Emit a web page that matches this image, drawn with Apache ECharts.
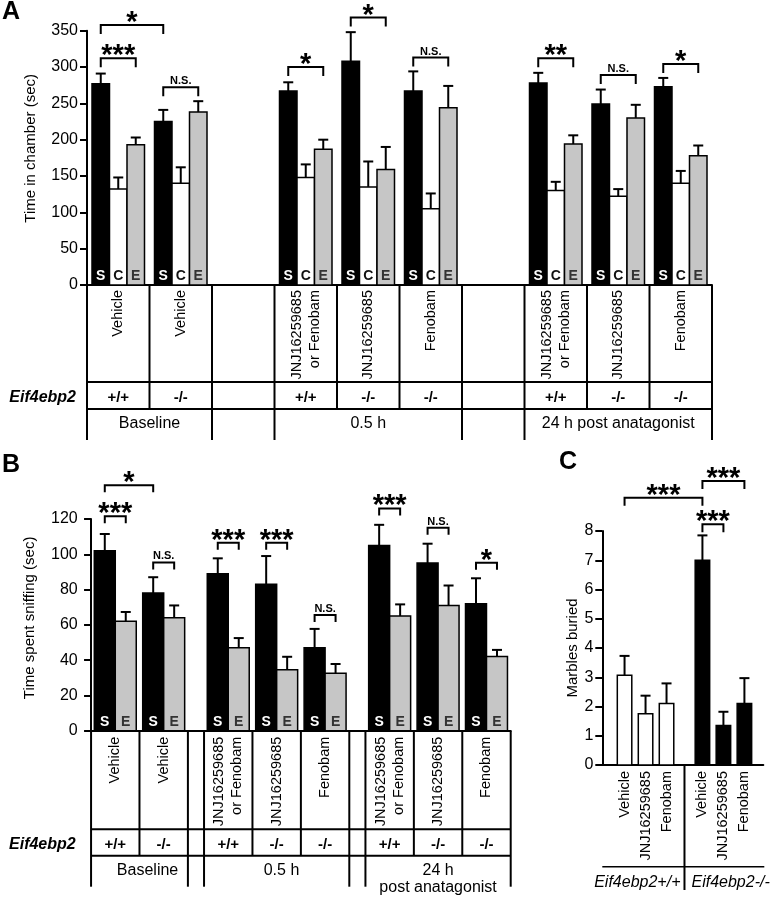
<!DOCTYPE html>
<html><head><meta charset="utf-8">
<script src="https://cdn.jsdelivr.net/npm/echarts@6/dist/echarts.min.js"></script>
<style>html,body{margin:0;padding:0;background:#fff}#c{width:774px;height:899px}</style>
</head><body><div id="c"></div>
<script>
// ================= DATA =================
// Panel A : time in chamber (S = stranger/social, C = center, E = empty)
const aTreatments = ['Vehicle','Vehicle','JNJ16259685\nor Fenobam','JNJ16259685','Fenobam','JNJ16259685\nor Fenobam','JNJ16259685','Fenobam'];
const aGenotypes  = ['+/+','-/-','+/+','-/-','-/-','+/+','-/-','-/-'];
const aTimepoints = ['Baseline','0.5 h','24 h post anatagonist'];
const aYTicks     = [0,50,100,150,200,250,300,350];
const aSocial     = [277,225,267,308,267,278,249,273];
const aSocialErr  = [14,16,12,40,27,14,20,12];
const aCenter     = [132,140,148,135,105,130,122,140];
const aCenterErr  = [16,22,18,35,21,12,10,17];
const aEmpty      = [193,238,187,159,244,194,230,178];
const aEmptyErr   = [10,15,13,31,30,12,18,14];
// significance brackets: [group, bar] -> [group, bar], level, label
const aSigFrom    = [[0,0],[0,0],[1,0],[2,0],[3,0],[4,0],[5,0],[6,0],[7,0]];
const aSigTo      = [[0,2],[1,0],[1,2],[2,2],[3,2],[4,2],[5,2],[6,2],[7,2]];
const aSigLevel   = [312,358,272,300,368,313,312,289,304];
const aSigLabel   = ['***','*','N.S.','*','*','N.S.','**','N.S.','*'];

// Panel B : time spent sniffing (S, E)
const bTreatments = aTreatments;
const bGenotypes  = aGenotypes;
const bTimepoints = ['Baseline','0.5 h','24 h\npost anatagonist'];
const bYTicks     = [0,20,40,60,80,100,120];
const bSocial     = [102,78,89,83,47,105,95,72];
const bSocialErr  = [9.5,9,8.7,16,10.7,11.7,11,14.4];
const bEmpty      = [62,64,47,34.5,32.5,65,71,42];
const bEmptyErr   = [5.3,7,5.5,7.4,5.3,6.6,11.3,3.8];
const bSigFrom    = [[0,0],[0,0],[1,0],[2,0],[3,0],[4,0],[5,0],[6,0],[7,0]];
const bSigTo      = [[0,1],[1,0],[1,1],[2,1],[3,1],[4,1],[5,1],[6,1],[7,1]];
const bSigLevel   = [121.6,139.2,95.4,106.5,106.5,65.6,126,115,95.2];
const bSigLabel   = ['***','*','N.S.','***','***','N.S.','***','N.S.','*'];

// Panel C : marbles buried
const cTreatments = ['Vehicle','JNJ16259685','Fenobam','Vehicle','JNJ16259685','Fenobam'];
const cGenotypes  = ['Eif4ebp2+/+','Eif4ebp2-/-'];
const cYTicks     = [0,1,2,3,4,5,6,7,8];
const cValues     = [3.07,1.75,2.1,7.0,1.35,2.1];
const cErr        = [0.66,0.62,0.69,0.85,0.47,0.87];
const cSigFrom    = [0,3,3];
const cSigTo      = [3,5,4];
const cSigLevel   = [9.14,9.71,8.23];
const cSigLabel   = ['***','***','***'];

// ================= LAYOUT =================
const FF = '"Liberation Sans", Arial, Helvetica, sans-serif';
const aSlots = [0,1,3,4,5,7,8,9];
const aBarW = 0.28;
const aX = (g,b) => aSlots[g] + 0.5 + (b-1)*aBarW;
const aBounds = [0,1,2,3,4,5,6,7,8,9,10];
const aFull = [0,2,3,6,7,10];
const aTimePos = [1,4.5,8.5];

const bStarts = [0,3,7,10,13,17,20,23];
const bBarW = 1.3;
const bX = (g,b) => bStarts[g] + 1.5 + (b===0 ? -bBarW/2 : bBarW/2);
const bBounds = [0,3,6,7,10,13,16,17,20,23,26];
const bFull = [0,6,7,16,17,26];
const bTimePos = [3.5,11.8,21.5];

const cBarW = 0.69;
const cX = i => 1.06 + i + (i>=3 ? 0.71 : 0);

const BLACK='#000', WHITE='#fff', GRAY='#c6c6c6';

function barSeries(gi, vals, errs, xf, wUnits, fill, letter, letterColor){
  return {
    type:'custom', xAxisIndex:gi, yAxisIndex:gi, clip:false, z:2, encode:{x:0,y:1},
    data: vals.map((v,i)=>[xf(i), v, errs[i]]),
    renderItem(params, api){
      const x=api.value(0), v=api.value(1), e=api.value(2);
      const b=api.coord([x,0]), t=api.coord([x,v]), et=api.coord([x,v+e]);
      const w=api.size([wUnits,0])[0];
      const ch=[
        {type:'line', shape:{x1:b[0],y1:t[1],x2:b[0],y2:et[1]}, style:{stroke:'#000',lineWidth:2}},
        {type:'line', shape:{x1:b[0]-5,y1:et[1],x2:b[0]+5,y2:et[1]}, style:{stroke:'#000',lineWidth:2}},
        {type:'rect', shape:{x:b[0]-w/2,y:t[1],width:w,height:b[1]-t[1]}, style:{fill:fill, stroke:'#000', lineWidth:1.5}}
      ];
      if(letter) ch.push({type:'text', x:b[0], y:b[1]-8.5, style:{text:letter, font:'bold 14px '+FF, fill:letterColor, textAlign:'center', textVerticalAlign:'middle'}});
      return {type:'group', children:ch};
    }
  };
}

function sigSeries(gi, fromX, toX, levels, labels, drop){
  return {
    type:'custom', xAxisIndex:gi, yAxisIndex:gi, clip:false, z:3, encode:{x:[0,1], y:2},
    data: levels.map((lv,i)=>[fromX[i], toX[i], lv]),
    renderItem(params, api){
      const p1=api.coord([api.value(0), api.value(2)]), p2=api.coord([api.value(1), api.value(2)]);
      const lab=labels[params.dataIndex], ns = lab==='N.S.';
      return {type:'group', children:[
        {type:'polyline', shape:{points:[[p1[0],p1[1]+drop],[p1[0],p1[1]],[p2[0],p2[1]],[p2[0],p2[1]+drop]]}, style:{stroke:'#000', fill:'none', lineWidth:2}},
        {type:'text', x:(p1[0]+p2[0])/2, y: ns ? p1[1]-6 : p1[1]-2, style:{text:lab, font: ns ? 'bold 11px '+FF : 'bold 29px '+FF, fill:'#000', textAlign:'center', textVerticalAlign:'middle'}}
      ]};
    }
  };
}

function tableSeries(gi, centers, treatments, genotypes, bounds, full, timePos, timeLabels, rows){
  const fullSet = new Set(full);
  return [
    { // treatment + genotype labels
      type:'custom', xAxisIndex:gi, yAxisIndex:gi, clip:false, z:3, encode:{x:0,y:1},
      data: centers.map(x=>[x,0]),
      renderItem(params, api){
        const p=api.coord([api.value(0),0]), i=params.dataIndex;
        return {type:'group', children:[
          {type:'text', x:p[0], y:p[1]+rows.labelTop, rotation:Math.PI/2, style:{text:treatments[i], font:'14.5px '+FF, fill:'#000', textAlign:'right', textVerticalAlign:'middle', lineHeight:18}},
          {type:'text', x:p[0], y:p[1]+rows.geno, style:{text:genotypes[i], font:'bold 15px '+FF, fill:'#000', textAlign:'center', textVerticalAlign:'middle'}}
        ]};
      }
    },
    { // table rules
      type:'custom', xAxisIndex:gi, yAxisIndex:gi, clip:false, z:3, encode:{x:0,y:1},
      data: bounds.map(b=>[b,0]),
      renderItem(params, api){
        const b=api.value(0), p=api.coord([b,0]);
        const depth = fullSet.has(b) ? rows.full : rows.r2;
        const ch=[{type:'line', shape:{x1:p[0],y1:p[1],x2:p[0],y2:p[1]+depth}, style:{stroke:'#000',lineWidth:2}}];
        if(params.dataIndex===0){
          const pe=api.coord([bounds[bounds.length-1],0]);
          ch.push({type:'line', shape:{x1:p[0],y1:p[1]+rows.r1,x2:pe[0],y2:p[1]+rows.r1}, style:{stroke:'#000',lineWidth:2}});
          ch.push({type:'line', shape:{x1:p[0],y1:p[1]+rows.r2,x2:pe[0],y2:p[1]+rows.r2}, style:{stroke:'#000',lineWidth:2}});
          ch.push({type:'text', x:params.coordSys.x-11, y:p[1]+rows.geno, style:{text:'Eif4ebp2', font:'italic bold 16px '+FF, fill:'#000', textAlign:'right', textVerticalAlign:'middle'}});
        }
        return {type:'group', children:ch};
      }
    },
    { // time point labels
      type:'custom', xAxisIndex:gi, yAxisIndex:gi, clip:false, z:3, encode:{x:0,y:1},
      data: timePos.map(x=>[x,0]),
      renderItem(params, api){
        const p=api.coord([api.value(0),0]);
        return {type:'text', x:p[0], y:p[1]+rows.time, style:{text:timeLabels[params.dataIndex], font:'16px '+FF, fill:'#000', textAlign:'center', textVerticalAlign:'top', lineHeight:17.5}};
      }
    }
  ];
}

function xAx(gi, min, max){
  return {gridIndex:gi, type:'value', min, max,
    axisLine:{show:true, onZero:false, lineStyle:{color:'#000', width:2}},
    axisTick:{show:false}, axisLabel:{show:false}, splitLine:{show:false}};
}
function yAx(gi, ticks, name, pad, gap){
  return {gridIndex:gi, type:'value', min:ticks[0], max:ticks[ticks.length-1], interval:ticks[1]-ticks[0],
    name, nameLocation:'middle', nameGap:gap, nameRotate:90,
    nameTextStyle:{fontFamily:FF, fontSize:15, color:'#000', padding:pad},
    axisLine:{show:true, lineStyle:{color:'#000', width:2}},
    axisTick:{show:true, length:7, lineStyle:{color:'#000', width:2}},
    axisLabel:{fontFamily:FF, fontSize:16, color:'#000', margin:9},
    splitLine:{show:false}};
}

const series = [];
// Panel A
series.push(barSeries(0, aSocial, aSocialErr, i=>aX(i,0), aBarW, BLACK, 'S', WHITE));
series.push(barSeries(0, aCenter, aCenterErr, i=>aX(i,1), aBarW, WHITE, 'C', '#111'));
series.push(barSeries(0, aEmpty, aEmptyErr, i=>aX(i,2), aBarW, GRAY, 'E', '#333'));
series.push(sigSeries(0, aSigFrom.map(f=>aX(f[0],f[1])), aSigTo.map(t=>aX(t[0],t[1])), aSigLevel, aSigLabel, 9));
tableSeries(0, aSlots.map(s=>s+0.5), aTreatments, aGenotypes, aBounds, aFull, aTimePos, aTimepoints,
  {labelTop:5, r1:97, r2:124, full:155, geno:113, time:130}).forEach(s=>series.push(s));
// Panel B
series.push(barSeries(1, bSocial, bSocialErr, i=>bX(i,0), bBarW, BLACK, 'S', WHITE));
series.push(barSeries(1, bEmpty, bEmptyErr, i=>bX(i,1), bBarW, GRAY, 'E', '#333'));
series.push(sigSeries(1, bSigFrom.map(f=>bX(f[0],f[1])), bSigTo.map(t=>bX(t[0],t[1])), bSigLevel, bSigLabel, 7));
tableSeries(1, bStarts.map(s=>s+1.5), bTreatments, bGenotypes, bBounds, bFull, bTimePos, bTimepoints,
  {labelTop:6, r1:98.5, r2:125, full:156, geno:114, time:131}).forEach(s=>series.push(s));
// Panel C
series.push(barSeries(2, cValues.slice(0,3), cErr.slice(0,3), i=>cX(i), cBarW, WHITE, null, null));
series.push(barSeries(2, cValues.slice(3), cErr.slice(3), i=>cX(i+3), cBarW, BLACK, null, null));
series.push(sigSeries(2, cSigFrom.map(cX), cSigTo.map(cX), cSigLevel, cSigLabel, 8));
series.push({
  type:'custom', xAxisIndex:2, yAxisIndex:2, clip:false, z:3, encode:{x:0,y:1},
  data: cTreatments.map((t,i)=>[cX(i),0]),
  renderItem(params, api){
    const p=api.coord([api.value(0),0]), i=params.dataIndex;
    const ch=[{type:'text', x:p[0], y:p[1]+6, rotation:Math.PI/2, style:{text:cTreatments[i], font:'14.5px '+FF, fill:'#000', textAlign:'right', textVerticalAlign:'middle'}}];
    if(i===0){
      const cs=params.coordSys;
      const dx=api.coord([(cX(2)+cX(3))/2,0])[0];
      ch.push({type:'line', shape:{x1:dx,y1:p[1],x2:dx,y2:p[1]+125}, style:{stroke:'#000',lineWidth:2}});
      ch.push({type:'line', shape:{x1:cs.x,y1:p[1]+101.7,x2:cs.x+cs.width+1,y2:p[1]+101.7}, style:{stroke:'#000',lineWidth:1.5}});
      ch.push({type:'text', x:dx-4, y:p[1]+117.7, style:{text:cGenotypes[0], font:'italic 16px '+FF, fill:'#000', textAlign:'right', textVerticalAlign:'middle'}});
      ch.push({type:'text', x:dx+7, y:p[1]+117.7, style:{text:cGenotypes[1], font:'italic 16px '+FF, fill:'#000', textAlign:'left', textVerticalAlign:'middle'}});
    }
    return {type:'group', children:ch};
  }
});

const option = {
  animation:false,
  backgroundColor:'#fff',
  title:[
    {text:'A', left:2, top:0, padding:0, textStyle:{fontFamily:FF, fontSize:25, fontWeight:'bold', color:'#000'}},
    {text:'B', left:2, top:453, padding:0, textStyle:{fontFamily:FF, fontSize:25, fontWeight:'bold', color:'#000'}},
    {text:'C', left:559, top:450, padding:0, textStyle:{fontFamily:FF, fontSize:25, fontWeight:'bold', color:'#000'}}
  ],
  grid:[
    {left:87, top:30.7, width:625, height:254.3},
    {left:86.7, top:519, width:424, height:211.7},
    {left:602.3, top:531, width:161, height:234}
  ],
  xAxis:[xAx(0,0,10), xAx(1,-0.27,26), xAx(2,0,7.67)],
  yAxis:[
    yAx(0, aYTicks, 'Time in chamber (sec)', [0,0,0,19], 49),
    yAx(1, bYTicks, 'Time spent sniffing (sec)', [0,0,0,14], 49),
    yAx(2, cYTicks, 'Marbles buried', 0, 22)
  ],
  series
};
const chart = echarts.init(document.getElementById('c'));
chart.setOption(option);
</script></body></html>
